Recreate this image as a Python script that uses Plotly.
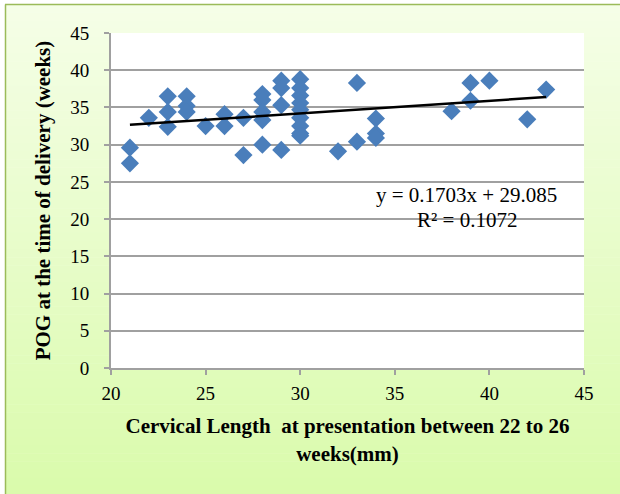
import plotly.graph_objects as go

# ---- data ----
cervical_length = [21, 21, 22, 23, 23, 23, 24, 24, 24, 25, 26, 26, 27, 27,
                   28, 28, 28, 28, 28, 29, 29, 29, 29,
                   30, 30, 30, 30, 30, 30, 30, 30, 30,
                   32, 33, 33, 34, 34, 34, 38, 39, 39, 40, 42, 43]
pog_weeks = [29.6, 27.5, 33.6, 36.5, 34.4, 32.4, 36.5, 35.2, 34.4, 32.5, 34.1, 32.5, 33.6, 28.6,
             36.8, 36.0, 34.4, 33.3, 30.0, 38.6, 37.6, 35.3, 29.3,
             38.8, 37.6, 36.6, 35.6, 34.7, 33.6, 32.5, 31.5, 31.2,
             29.1, 38.3, 30.4, 33.5, 31.5, 30.9, 34.5, 38.3, 35.9, 38.6, 33.4, 37.4]
trend_slope = 0.1703
trend_intercept = 29.085
r_squared = 0.1072
x_ticks = [20, 25, 30, 35, 40, 45]
y_ticks = [0, 5, 10, 15, 20, 25, 30, 35, 40, 45]

FONT = "Liberation Serif"
W, H = 620, 494
ML, MR, MT, MB = 111, 36, 33, 126
PW, PH = W - ML - MR, H - MT - MB

def px_to_paper_x(px):
    return (px - ML) / PW

def py_to_paper_y(py):
    return (H - MB - py) / PH

fig = go.Figure()

fig.add_trace(go.Scatter(
    x=cervical_length, y=pog_weeks, mode="markers",
    marker=dict(symbol="diamond", size=14, color="#4a7ebb", line=dict(width=0)),
    showlegend=False, cliponaxis=False,
))

x_tr = [min(cervical_length), max(cervical_length)]
y_tr = [trend_slope * v + trend_intercept for v in x_tr]
fig.add_trace(go.Scatter(
    x=x_tr, y=y_tr, mode="lines",
    line=dict(color="black", width=2.5), showlegend=False,
))

# gradient background as bands
shapes = []
top_c = (245, 254, 231)
bot_c = (218, 251, 172)
n = 60
y_start, y_end = 4, H
for i in range(n):
    t = i / (n - 1)
    c = tuple(round(top_c[k] + (bot_c[k] - top_c[k]) * t) for k in range(3))
    py0 = y_start + (y_end - y_start) * i / n
    py1 = y_start + (y_end - y_start) * (i + 1) / n + 0.5
    shapes.append(dict(type="rect", xref="paper", yref="paper", layer="below",
                       x0=px_to_paper_x(5), x1=px_to_paper_x(W + 2),
                       y0=py_to_paper_y(py1), y1=py_to_paper_y(py0),
                       fillcolor="rgb(%d,%d,%d)" % c, line=dict(width=0)))
# white plot area
shapes.append(dict(type="rect", xref="x domain", yref="y domain", layer="below",
                   x0=0, x1=1, y0=0, y1=1, fillcolor="white", line=dict(width=0)))
# border lines (top and left)
shapes.append(dict(type="line", xref="paper", yref="paper", layer="above",
                   x0=px_to_paper_x(5), x1=px_to_paper_x(W + 2),
                   y0=py_to_paper_y(4.5), y1=py_to_paper_y(4.5),
                   line=dict(color="#9bbb59", width=1.5)))
shapes.append(dict(type="line", xref="paper", yref="paper", layer="above",
                   x0=px_to_paper_x(5.5), x1=px_to_paper_x(5.5),
                   y0=py_to_paper_y(4.5), y1=py_to_paper_y(H + 2),
                   line=dict(color="#9bbb59", width=1.5)))

fig.update_layout(
    width=W, height=H,
    margin=dict(l=ML, r=MR, t=MT, b=MB),
    paper_bgcolor="white", plot_bgcolor="white",
    font=dict(family=FONT, color="black"),
    shapes=shapes,
    xaxis=dict(
        range=[20, 45], tickvals=x_ticks, showgrid=False, zeroline=False,
        showline=True, linecolor="#a0a0a0", linewidth=2,
        ticks="outside", ticklen=5, tickcolor="#a0a0a0", tickwidth=2,
        tickfont=dict(size=19, family=FONT), ticklabelstandoff=2,
        title=dict(text="<b>Cervical Length  at presentation between 22 to 26<br>weeks(mm)</b>",
                   font=dict(size=21, family=FONT), standoff=16),
    ),
    yaxis=dict(
        range=[0, 45], tickvals=y_ticks, showgrid=True, gridcolor="#a0a0a0", gridwidth=1.7,
        zeroline=False, showline=True, linecolor="#a0a0a0", linewidth=2,
        ticks="outside", ticklen=5, tickcolor="#a0a0a0", tickwidth=2,
        tickfont=dict(size=19, family=FONT), ticklabelstandoff=11,
        title=dict(text="<b>POG at the time of delivery (weeks)</b>",
                   font=dict(size=21, family=FONT), standoff=14),
    ),
    annotations=[
        dict(x=38.8, y=23.3, xref="x", yref="y", showarrow=False,
             text="y = %.4fx + %.3f" % (trend_slope, trend_intercept),
             font=dict(size=21, family=FONT, color="black")),
        dict(x=38.8, y=19.9, xref="x", yref="y", showarrow=False,
             text="R² = %.4f" % r_squared,
             font=dict(size=21, family=FONT, color="black")),
    ],
)

fig.write_html("out.html", config={"displayModeBar": False},
               post_script="document.body.style.margin='0';document.body.style.overflow='hidden';")
